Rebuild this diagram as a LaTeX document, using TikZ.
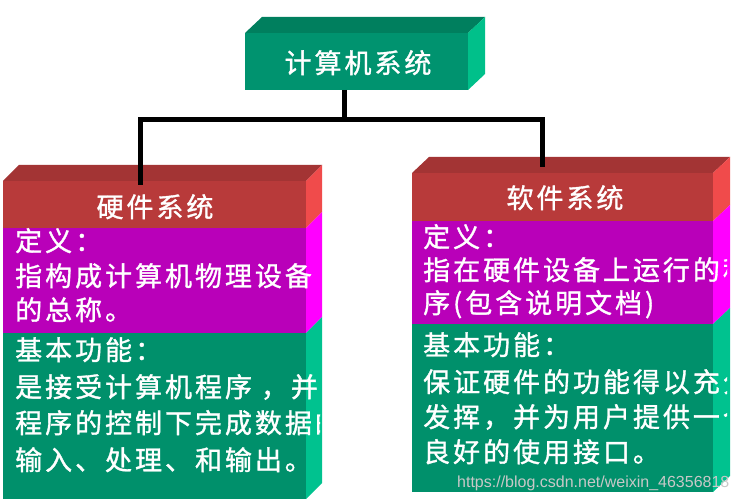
\documentclass[tikz,border=0pt]{standalone}
\usepackage{fontspec}
\newfontfamily\cjk[LetterSpace=11, FakeBold=1.2]{Noto Sans CJK SC}
\newfontfamily\wmfont{Liberation Sans}
\definecolor{tfront}{HTML}{00936F}
\definecolor{ttop}{HTML}{007F5E}
\definecolor{tside}{HTML}{00C08A}
\definecolor{rfront}{HTML}{B83A3A}
\definecolor{rtop}{HTML}{A33434}
\definecolor{rside}{HTML}{F04B4B}
\definecolor{mfront}{HTML}{B900B9}
\definecolor{mside}{HTML}{FF00FF}
\definecolor{gfront}{HTML}{00906B}
\definecolor{gside}{HTML}{00C28F}
\definecolor{wmgray}{HTML}{C8C8C8}
\tikzset{
  band/.style={inner sep=0pt, outer sep=0pt, anchor=north west, draw=none},
  hdtext/.style={inner sep=0pt, anchor=base, text=white, font=\cjk\fontsize{27}{32}\selectfont},
  bodytext/.style={inner sep=0pt, anchor=base west, text=white, font=\cjk\fontsize{27}{32}\selectfont},
  conn/.style={line width=5pt, black, line join=miter},
}
\begin{document}
\begin{tikzpicture}[x=1pt,y=-1pt]
\fill[white] (0,0) rectangle (738,502);
\useasboundingbox (0,0) rectangle (738,502);

% ---------- top box ----------
\node[band, fill=tfront, minimum width=223pt, minimum height=57pt] (sys) at (245,33) {};
\fill[ttop] (sys.north west) -- ++(17,-16) -- ++(223,0) -- (sys.north east) -- cycle;
\fill[tside] (sys.north east) -- ++(17,-16) -- ++(0,57) -- (sys.south east) -- cycle;
\node[hdtext] (syst) at (358,73) {计算机系统};

% ---------- left box (hardware) ----------
\node[band, fill=rfront, minimum width=303pt, minimum height=47pt] (hwh) at (3,181) {};
\node[band, fill=mfront, minimum width=303pt, minimum height=105pt] (hwd) at (3,228) {};
\node[band, fill=gfront, minimum width=303pt, minimum height=166pt] (hwf) at (3,333) {};
\fill[rtop] (hwh.north west) -- ++(16,-16) -- ++(303,0) -- (hwh.north east) -- cycle;
\fill[rside] (hwh.north east) -- ++(16,-16) -- ++(0,47) -- (hwh.south east) -- cycle;
\fill[mside] (hwd.north east) -- ++(16,-16) -- ++(0,105) -- (hwd.south east) -- cycle;
\fill[gside] (hwf.north east) -- ++(16,-16) -- ++(0,166) -- (hwf.south east) -- cycle;
\node[hdtext] (hwt) at (155,217) {硬件系统};
\begin{scope}
\clip (3,228) rectangle (320,499);
\node[bodytext] (hwd1) at (15,251) {定义：};
\node[bodytext] (hwd2) at (15,286) {指构成计算机物理设备};
\node[bodytext] (hwd3) at (15,320) {的总称。};
\node[bodytext] (hwf1) at (15,360) {基本功能：};
\node[bodytext] (hwf2) at (15,397) {是接受计算机程序 ，并在};
\node[bodytext] (hwf3) at (15,433) {程序的控制下完成数据的};
\node[bodytext] (hwf4) at (15,470) {输入、处理、和输出。};
\end{scope}

% ---------- right box (software) ----------
\node[band, fill=rfront, minimum width=301pt, minimum height=48pt] (swh) at (412,173) {};
\node[band, fill=mfront, minimum width=301pt, minimum height=103pt] (swd) at (412,221) {};
\node[band, fill=gfront, minimum width=301pt, minimum height=168pt] (swf) at (412,324) {};
\fill[rtop] (swh.north west) -- ++(17,-16) -- ++(301,0) -- (swh.north east) -- cycle;
\fill[rside] (swh.north east) -- ++(17,-16) -- ++(0,48) -- (swh.south east) -- cycle;
\fill[mside] (swd.north east) -- ++(17,-16) -- ++(0,103) -- (swd.south east) -- cycle;
\fill[gside] (swf.north east) -- ++(17,-16) -- ++(0,168) -- (swf.south east) -- cycle;
\node[hdtext] (swt) at (565,208) {软件系统};
\begin{scope}
\clip (412,221) rectangle (727,492);
\node[bodytext] (swd1) at (423,247) {定义：};
\node[bodytext] (swd2) at (423,280) {指在硬件设备上运行的程};
\node[bodytext] (swd3) at (423,313) {序(包含说明文档)};
\node[bodytext] (swf1) at (423,355) {基本功能：};
\node[bodytext] (swf2) at (423,392) {保证硬件的功能得以充分};
\node[bodytext] (swf3) at (423,427) {发挥，并为用户提供一个};
\node[bodytext] (swf4) at (423,462) {良好的使用接口。};
\end{scope}

% ---------- connectors ----------
\coordinate (j) at (344,120);
\coordinate (jl) at (140,120);
\coordinate (jr) at (542,120);
\coordinate (el) at (140,185);
\coordinate (er) at (542,167);
\draw[conn] (sys.south -| j) -- (j);
\draw[conn] (el) -- (jl) -- (jr) -- (er);

% ---------- watermark ----------
\node[inner sep=0pt, anchor=base west, text=wmgray, font=\wmfont\fontsize{16}{18}\selectfont] (wm) at (457,487) {https://blog.csdn.net/weixin\_46356818};
\end{tikzpicture}
\end{document}
